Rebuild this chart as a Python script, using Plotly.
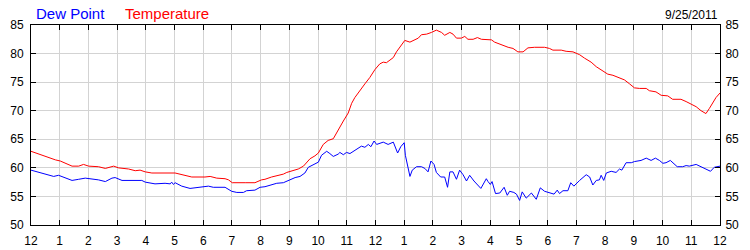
import plotly.graph_objects as go

date_label = "9/25/2011"
dew_name = "Dew Point"
temp_name = "Temperature"

tick_hours = list(range(0, 25))
tick_labels = ["12", "1", "2", "3", "4", "5", "6", "7", "8", "9", "10", "11",
               "12", "1", "2", "3", "4", "5", "6", "7", "8", "9", "10", "11", "12"]
y_ticks = [50, 55, 60, 65, 70, 75, 80, 85]

temp_hours = [0.00, 0.27, 0.61, 0.85, 1.02, 1.19, 1.43, 1.66, 1.83, 2.01, 2.35, 2.59, 2.88,
              3.05, 3.40, 3.63, 3.80, 3.98, 4.21, 5.02, 5.25, 5.60, 6.06, 6.24, 6.47, 6.76,
              6.88, 7.01, 7.46, 7.80, 8.03, 8.15, 8.38, 8.62, 8.79, 8.91, 9.08, 9.31, 9.49,
              9.60, 9.72, 9.89, 10.01, 10.18, 10.35, 10.53, 10.70, 10.88, 11.05, 11.17, 11.28,
              11.46, 11.63, 11.80, 11.98, 12.15, 12.27, 12.38, 12.50, 12.62, 12.73, 12.85,
              13.02, 13.20, 13.37, 13.49, 13.60, 13.78, 13.95, 14.12, 14.30, 14.41, 14.59,
              14.70, 14.82, 14.99, 15.11, 15.22, 15.40, 15.55, 15.69, 15.86, 16.04, 16.15,
              16.38, 16.62, 16.79, 16.96, 17.14, 17.31, 17.54, 17.89, 18.06, 18.18, 18.47,
              18.64, 18.88, 19.11, 19.28, 19.51, 19.69, 19.86, 20.09, 20.27, 20.44, 20.67,
              20.85, 21.02, 21.20, 21.43, 21.54, 21.77, 21.95, 22.18, 22.35, 22.64, 22.82,
              22.99, 23.17, 23.34, 23.51, 23.63, 23.75, 23.86, 24.00]
temp_values = [62.9, 62.4, 61.8, 61.4, 61.2, 60.8, 60.3, 60.3, 60.6, 60.3, 60.2, 59.9, 60.3,
               60.0, 59.8, 59.5, 59.6, 59.3, 59.1, 59.1, 58.8, 58.4, 58.4, 58.5, 58.2, 58.1,
               57.9, 57.4, 57.4, 57.4, 57.9, 58.0, 58.4, 58.7, 58.9, 59.2, 59.5, 59.8, 60.3,
               60.9, 61.6, 62.1, 62.6, 64.1, 64.8, 65.1, 66.7, 68.2, 69.6, 71.3, 72.3,
               73.6, 74.7, 75.8, 77.2, 78.2, 78.5, 78.4, 78.9, 79.3, 80.3, 81.2,
               82.3, 82.0, 82.5, 82.7, 83.3, 83.4, 83.7, 84.1, 83.7, 83.2, 83.7,
               83.4, 82.7, 82.7, 83.0, 82.5, 82.5, 82.8, 82.5, 82.4, 82.4, 82.0,
               81.5, 81.1, 80.9, 80.3, 80.3, 81.0, 81.1, 81.1, 80.9, 80.6, 80.6,
               80.4, 80.3, 79.8, 79.2, 78.5, 77.7, 77.1, 76.4, 76.2, 75.8, 75.4,
               74.7, 74.0, 73.9, 73.9, 73.5, 73.3, 72.7, 72.6, 72.0, 72.0, 71.6,
               71.2, 70.7, 70.0, 69.5, 70.4, 71.4, 72.3, 73.1]

dew_hours = [0.00, 0.27, 0.50, 0.79, 0.96, 1.19, 1.43, 1.66, 1.89, 2.35, 2.59, 2.82, 2.93,
             3.17, 3.51, 3.74, 3.86, 3.98, 4.32, 4.67, 4.85, 4.90, 4.96, 5.02, 5.25, 5.54,
             5.95, 6.18, 6.35, 6.76, 6.99, 7.17, 7.40, 7.51, 7.80, 7.98, 8.15, 8.33, 8.56,
             8.79, 8.96, 9.20, 9.37, 9.54, 9.66, 9.83, 10.01, 10.12, 10.30, 10.41, 10.53,
             10.70, 10.76, 10.88, 10.99, 11.11, 11.28, 11.51, 11.63, 11.75, 11.84, 11.95,
             12.04, 12.27, 12.44, 12.62, 12.77, 12.88, 13.00, 13.04, 13.20, 13.28, 13.43,
             13.60, 13.72, 13.83, 13.93, 14.04, 14.12, 14.27, 14.41, 14.51, 14.59, 14.70,
             14.82, 14.93, 15.05, 15.17, 15.28, 15.43, 15.67, 15.86, 15.92, 16.00, 16.06,
             16.18, 16.33, 16.48, 16.59, 16.67, 16.82, 16.91, 17.02, 17.11, 17.25, 17.43,
             17.60, 17.74, 17.89, 18.06, 18.22, 18.33, 18.41, 18.53, 18.70, 18.80, 18.91,
             19.11, 19.34, 19.46, 19.57, 19.69, 19.80, 19.86, 19.95, 20.04, 20.21, 20.38,
             20.50, 20.58, 20.73, 20.91, 21.02, 21.25, 21.43, 21.60, 21.75, 21.89, 22.01,
             22.12, 22.27, 22.51, 22.70, 22.82, 22.93, 23.17, 23.34, 23.51, 23.67, 23.80,
             24.00]
dew_values = [59.6, 59.2, 58.9, 58.5, 58.7, 58.2, 57.8, 58.0, 58.2, 57.9, 57.6, 58.2, 58.3,
              57.8, 57.8, 57.7, 57.8, 57.5, 57.2, 57.3, 57.2, 57.5, 57.1, 57.4, 56.8, 56.4,
              56.6, 56.8, 56.6, 56.6, 55.9, 55.7, 55.7, 56.0, 56.1, 56.6, 56.7, 57.0, 57.3,
              57.4, 57.8, 58.3, 58.5, 59.1, 60.1, 60.6, 61.0, 62.2, 62.9, 62.5, 62.0,
              62.4, 62.7, 62.3, 62.7, 62.5, 63.1, 63.8, 63.6, 64.1, 63.7, 64.7,
              64.1, 64.5, 64.1, 64.5, 62.6, 63.7, 64.4, 62.2, 58.5, 59.6, 60.2,
              60.2, 59.9, 59.3, 61.2, 60.6, 59.2, 58.4, 58.4, 56.6, 59.3, 59.3,
              58.0, 59.6, 58.8, 57.7, 58.7, 57.7, 56.4, 58.1, 57.6, 57.1, 57.6,
              55.5, 55.6, 56.6, 55.2, 55.9, 55.7, 55.4, 54.3, 55.8, 54.7, 55.6,
              54.5, 56.5, 55.9, 55.7, 55.4, 56.1, 55.5, 56.0, 56.0, 57.4, 56.8,
              57.8, 58.8, 58.4, 57.0, 57.8, 57.9, 58.7, 57.8, 59.1, 59.4, 59.2,
              59.8, 59.6, 60.9, 60.9, 61.1, 61.3, 61.7, 61.3, 61.7, 61.3, 60.8,
              60.9, 61.3, 60.2, 60.2, 60.4, 60.3, 60.6, 60.2, 59.8, 59.4, 60.1,
              60.3]

FONT = "Liberation Sans, Arial, sans-serif"

fig = go.Figure()
fig.add_trace(go.Scatter(x=temp_hours, y=temp_values, mode="lines", name=temp_name,
                         line=dict(color="#ff0000", width=1), yaxis="y"))
fig.add_trace(go.Scatter(x=dew_hours, y=dew_values, mode="lines", name=dew_name,
                         line=dict(color="#0000ff", width=1), yaxis="y2"))

axis_common = dict(showline=True, linecolor="black", linewidth=1,
                   ticks="inside", ticklen=5, tickcolor="black", tickwidth=1,
                   tickfont=dict(family=FONT, size=12, color="black"),
                   zeroline=False, automargin=False)

fig.update_layout(
    width=750, height=250,
    margin=dict(l=31, r=30, t=25, b=25),
    paper_bgcolor="white", plot_bgcolor="white",
    showlegend=False,
    xaxis=dict(range=[0, 24], tickvals=tick_hours, ticktext=tick_labels,
               showgrid=True, gridcolor="#d3d3d3", gridwidth=1,
               mirror="ticks", ticklabelstandoff=5, **axis_common),
    yaxis=dict(range=[50, 85], tickvals=y_ticks, showgrid=True, gridcolor="#d3d3d3",
               gridwidth=1, mirror=True, ticklabelstandoff=4, **axis_common),
    yaxis2=dict(range=[50, 85], tickvals=y_ticks, overlaying="y", side="right",
                showgrid=False, ticklabelstandoff=2, **axis_common),
    annotations=[
        dict(text=dew_name, xref="paper", yref="paper", x=0.004, y=1.0, yshift=1,
             xanchor="left", yanchor="bottom", showarrow=False,
             font=dict(family=FONT, size=15, color="#0000ff")),
        dict(text=temp_name, xref="paper", yref="paper", x=0.133, y=1.0, yshift=1,
             xanchor="left", yanchor="bottom", showarrow=False,
             font=dict(family=FONT, size=15, color="#ff0000")),
        dict(text=date_label, xref="paper", yref="paper", x=1.0, y=1.0, yshift=1,
             xanchor="right", yanchor="bottom", showarrow=False,
             font=dict(family=FONT, size=12, color="black")),
    ],
)

fig.write_html("out.html")
